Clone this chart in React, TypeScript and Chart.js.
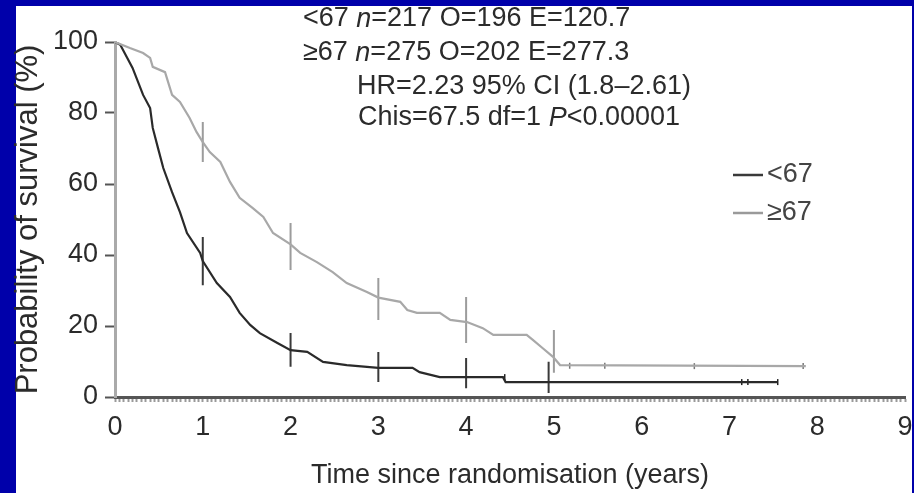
import React, { useEffect, useRef } from "react";
import { Chart, registerables } from "chart.js";

Chart.register(...registerables);

// ---- Data ----
const lt67Time = [0, 0.06, 0.2, 0.32, 0.4, 0.43, 0.49, 0.55, 0.65, 0.74, 0.82, 0.97, 1.0, 1.16, 1.31, 1.42, 1.54, 1.65, 1.85, 2.0, 2.19, 2.37, 2.64, 2.87, 3.0, 3.39, 3.47, 3.7, 4.0, 4.42, 4.45, 7.55];
const lt67Surv = [100, 99.2, 92.7, 85.1, 81.4, 75.8, 70.1, 64.5, 57.7, 52.1, 46.2, 40.6, 38.3, 32.1, 28.2, 23.7, 20.3, 18.0, 15.2, 13.2, 12.7, 9.9, 9.0, 8.5, 8.2, 8.2, 7.0, 5.6, 5.6, 5.6, 4.2, 4.2];

const ge67Time = [0, 0.17, 0.32, 0.4, 0.43, 0.57, 0.65, 0.74, 0.85, 0.93, 1.0, 1.08, 1.2, 1.31, 1.42, 1.57, 1.69, 1.8, 2.0, 2.11, 2.3, 2.48, 2.64, 2.87, 3.0, 3.25, 3.33, 3.44, 3.7, 3.82, 4.01, 4.19, 4.31, 4.69, 4.76, 4.87, 4.99, 5.07, 7.87];
const ge67Surv = [100, 98.3, 96.9, 95.5, 93.0, 91.5, 85.1, 83.1, 78.6, 74.6, 71.8, 69.0, 66.2, 60.6, 56.1, 53.2, 50.7, 46.2, 43.0, 40.6, 38.0, 35.2, 32.1, 29.6, 28.0, 26.8, 24.5, 23.7, 23.7, 21.7, 21.1, 19.4, 17.5, 17.5, 16.1, 13.8, 11.3, 9.0, 8.7];

// 95% CI bars
const lt67CiTime = [1, 2, 3, 4, 4.94];
const lt67CiLow = [31.5, 8.5, 4.2, 2.5, 1.1];
const lt67CiHigh = [45.1, 18.0, 12.7, 11.0, 9.9];
const ge67CiTime = [1, 2, 3, 4, 5];
const ge67CiLow = [66.2, 35.8, 21.7, 15.2, 6.8];
const ge67CiHigh = [77.5, 49.0, 33.5, 28.2, 18.9];

// censor marks
const lt67CensorTime = [4.44, 7.14, 7.21, 7.55];
const lt67CensorSurv = [5.6, 4.2, 4.2, 4.2];
const ge67CensorTime = [5.18, 5.58, 6.6, 7.84];
const ge67CensorSurv = [8.8, 8.8, 8.7, 8.7];

const groupLabels = ["<67", "\u226567"];
const xTitle = "Time since randomisation (years)";
const yTitle = "Probability of survival (%)";

// annotation lines: [text, italic]
const statLine1: [string, boolean][] = [["<67 ", false], ["n", true], ["=217 O=196 E=120.7", false]];
const statLine2: [string, boolean][] = [["\u226567 ", false], ["n", true], ["=275 O=202 E=277.3", false]];
const statLine3: [string, boolean][] = [["HR=2.23 95% CI (1.8\u20132.61)", false]];
const statLine4: [string, boolean][] = [["Chis=67.5 df=1 ", false], ["P", true], ["<0.00001", false]];

const FONT = "'Liberation Sans', Arial, Helvetica, sans-serif";
const TEXT = "#2b2b2b";
const DARK = "#2a2a2a";
const LIGHT = "#a8a8a8";
const BLUE = "#0000aa";

function ciSegments(t: number[], lo: number[], hi: number[]) {
  const out: any[] = [];
  t.forEach((v, i) => {
    out.push({ x: v, y: lo[i] });
    out.push({ x: v, y: hi[i] });
    out.push({ x: v, y: null });
  });
  return out;
}

const bgPlugin = {
  id: "bg",
  beforeDraw(chart: any) {
    const { ctx, width, height } = chart;
    ctx.save();
    ctx.fillStyle = BLUE;
    ctx.fillRect(0, 0, width, height);
    ctx.fillStyle = "#ffffff";
    ctx.fillRect(16, 6, 896, height - 6);
    ctx.restore();
  },
};

function drawRuns(ctx: CanvasRenderingContext2D, runs: [string, boolean][], x: number, y: number) {
  let cx = x;
  for (const [t, it] of runs) {
    ctx.font = `${it ? "italic " : ""}27px ${FONT}`;
    ctx.fillText(t, cx, y);
    cx += ctx.measureText(t).width;
  }
}

const textPlugin = {
  id: "texts",
  afterDraw(chart: any) {
    const { ctx } = chart;
    ctx.save();
    ctx.fillStyle = TEXT;
    ctx.textBaseline = "middle";
    ctx.textAlign = "left";
    drawRuns(ctx, statLine1, 303, 19);
    drawRuns(ctx, statLine2, 303, 53);
    drawRuns(ctx, statLine3, 357, 87);
    drawRuns(ctx, statLine4, 358, 118);
    // legend
    const items = [
      { color: "#3a3a3a", label: groupLabels[0], y: 175 },
      { color: "#9a9a9a", label: groupLabels[1], y: 213 },
    ];
    for (const it of items) {
      ctx.strokeStyle = it.color;
      ctx.lineWidth = 2.5;
      ctx.beginPath();
      ctx.moveTo(733, it.y);
      ctx.lineTo(763, it.y);
      ctx.stroke();
      ctx.fillStyle = "#444";
      ctx.font = `27px ${FONT}`;
      ctx.fillText(it.label, 767, it.y);
    }
    ctx.restore();
  },
};

export default function App() {
  const ref = useRef<HTMLCanvasElement | null>(null);
  useEffect(() => {
    document.body.style.margin = "0";
    if (!ref.current) return;
    const chart = new Chart(ref.current, {
      type: "line",
      data: {
        datasets: [
          {
            label: groupLabels[1],
            data: ge67Time.map((t, i) => ({ x: t, y: ge67Surv[i] })),
            borderColor: LIGHT,
            borderWidth: 2.2,
            pointRadius: 0,
            tension: 0,
          },
          {
            label: groupLabels[0],
            data: lt67Time.map((t, i) => ({ x: t, y: lt67Surv[i] })),
            borderColor: DARK,
            borderWidth: 2.2,
            pointRadius: 0,
            tension: 0,
          },
          {
            label: "ci-ge67",
            data: ciSegments(ge67CiTime, ge67CiLow, ge67CiHigh),
            borderColor: "#9c9c9c",
            borderWidth: 2,
            pointRadius: 0,
            spanGaps: false,
          },
          {
            label: "ci-lt67",
            data: ciSegments(lt67CiTime, lt67CiLow, lt67CiHigh),
            borderColor: "#3a3a3a",
            borderWidth: 2,
            pointRadius: 0,
            spanGaps: false,
          },
          {
            type: "scatter",
            label: "cens-ge67",
            data: ge67CensorTime.map((t, i) => ({ x: t, y: ge67CensorSurv[i] })),
            pointStyle: "line",
            rotation: 90,
            pointRadius: 3,
            borderColor: "#777",
            borderWidth: 1.5,
          } as any,
          {
            type: "scatter",
            label: "cens-lt67",
            data: lt67CensorTime.map((t, i) => ({ x: t, y: lt67CensorSurv[i] })),
            pointStyle: "line",
            rotation: 90,
            pointRadius: 3,
            borderColor: "#222",
            borderWidth: 1.5,
          } as any,
        ],
      },
      options: {
        animation: false,
        responsive: false,
        layout: { padding: { top: 42, right: 0, left: 0, bottom: 0 } },
        plugins: { legend: { display: false }, tooltip: { enabled: false } },
        scales: {
          x: {
            type: "linear",
            min: 0,
            max: 9,
            afterFit: (s: any) => {
              s.height = 96;
              s.paddingRight = 9;
            },
            border: { color: "#555", width: 3 },
            grid: { drawOnChartArea: false, drawTicks: true, tickLength: 5, tickColor: "#9a9a9a", tickWidth: 2 },
            ticks: {
              stepSize: 0.05,
              autoSkip: false,
              maxRotation: 0,
              minRotation: 0,
              padding: 9,
              color: TEXT,
              font: { family: FONT, size: 27 },
              callback: (v: any) => {
                const n = Number(v);
                return Math.abs(n - Math.round(n)) < 1e-6 ? String(Math.round(n)) : "";
              },
            },
            title: {
              display: true,
              text: xTitle,
              color: TEXT,
              font: { family: FONT, size: 27 },
              padding: { top: 0, bottom: 1 },
            },
          },
          y: {
            min: 0,
            max: 100,
            afterFit: (s: any) => {
              s.width = 115;
            },
            border: { color: "#aaaaaa", width: 3 },
            grid: { drawOnChartArea: false, tickLength: 10, tickColor: "#555", tickWidth: 2 },
            ticks: {
              stepSize: 20,
              padding: 7,
              color: TEXT,
              font: { family: FONT, size: 27 },
            },
            title: {
              display: true,
              text: yTitle,
              color: TEXT,
              font: { family: FONT, size: 31 },
              padding: { top: 10, bottom: 0 },
            },
          },
        },
      },
      plugins: [bgPlugin, textPlugin],
    } as any);
    return () => chart.destroy();
  }, []);
  return (
    <div style={{ width: 914, height: 493 }}>
      <canvas ref={ref} width={914} height={493} style={{ display: "block" }} />
    </div>
  );
}
